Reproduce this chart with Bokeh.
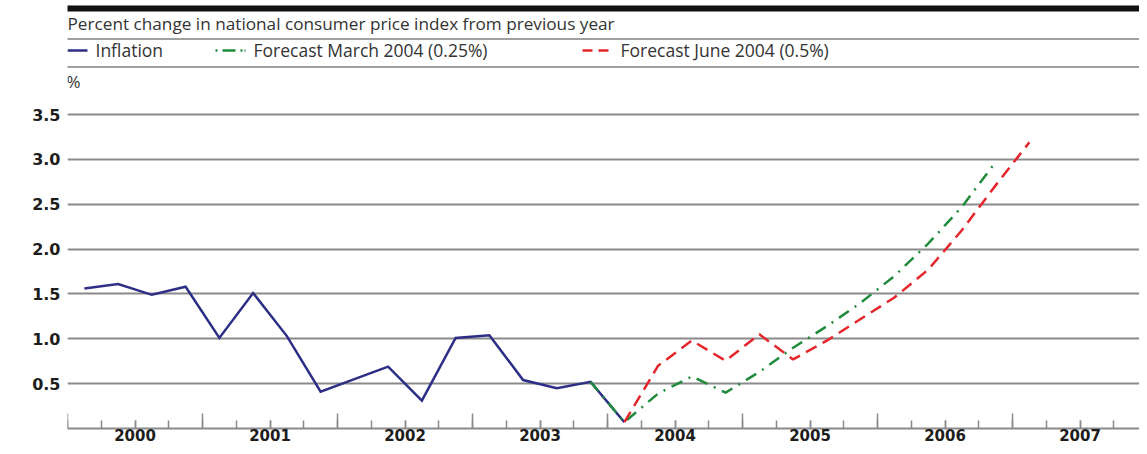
from bokeh.plotting import figure
from bokeh.models import (ColumnDataSource, FixedTicker, LinearAxis, Grid, BoxAnnotation,
                          CustomJSTickFormatter, PrintfTickFormatter, Range1d)
from bokeh.core.properties import value
from bokeh.embed import file_html
from bokeh.resources import INLINE

# ---------------- data ----------------
TITLE = "Percent change in national consumer price index from previous year"
UNIT = "%"
SERIES_NAMES = ["Inflation", "Forecast March 2004 (0.25%)", "Forecast June 2004 (0.5%)"]

inflation_quarters = ["2000Q1", "2000Q2", "2000Q3", "2000Q4",
                      "2001Q1", "2001Q2", "2001Q3", "2001Q4",
                      "2002Q1", "2002Q2", "2002Q3", "2002Q4",
                      "2003Q1", "2003Q2", "2003Q3", "2003Q4",
                      "2004Q1"]
inflation_values = [1.56, 1.61, 1.49, 1.58,
                    1.01, 1.51, 1.03, 0.41,
                    0.55, 0.69, 0.31, 1.01,
                    1.04, 0.54, 0.45, 0.52,
                    0.07]

march_quarters = ["2003Q4", "2004Q1", "2004Q2", "2004Q3", "2004Q4",
                  "2005Q1", "2005Q2", "2005Q3", "2005Q4",
                  "2006Q1", "2006Q2", "2006Q3", "2006Q4"]
march_values = [0.52, 0.07, 0.39, 0.58, 0.40,
                0.63, 0.90, 1.14, 1.40,
                1.70, 2.06, 2.47, 2.97]

june_quarters = ["2004Q1", "2004Q2", "2004Q3", "2004Q4",
                 "2005Q1", "2005Q2", "2005Q3", "2005Q4",
                 "2006Q1", "2006Q2", "2006Q3", "2006Q4",
                 "2007Q1"]
june_values = [0.07, 0.70, 0.98, 0.755,
               1.05, 0.77, 0.98, 1.22,
               1.46, 1.77, 2.21, 2.71,
               3.19]

years = [2000, 2001, 2002, 2003, 2004, 2005, 2006, 2007]
y_ticks = [0.5, 1.0, 1.5, 2.0, 2.5, 3.0, 3.5]

# ---------------- helpers ----------------
def quarter_x(label):
    yr, q = label.split("Q")
    return int(yr) + (int(q) - 0.5) / 4.0

year_bounds = years + [years[-1] + 1]
quarter_bounds = [y + k / 4.0 for y in years for k in range(4)] + [year_bounds[-1]]
mid_years = [y + 0.5 for y in years]

# ---------------- layout constants ----------------
W, H = 1139, 446
LEFT = 67            # frame left edge (px)
AXIS_Y = 428         # px of the zero line
TOP_TICK_Y = 114     # px of the 3.5 gridline
PX_PER_UNIT = (AXIS_Y - TOP_TICK_Y) / y_ticks[-1]
PX_PER_YEAR = 135.0
MAJOR_TICK_PX = 15

def xd(px):  # canvas px (from left) -> data x
    return year_bounds[0] + (px - LEFT) / PX_PER_YEAR

def yd(px):  # canvas px (from top) -> data y
    return (AXIS_Y - px) / PX_PER_UNIT

BLUE = "#2d2f86"
GREEN = "#1f8b3b"
RED = "#e3262b"
GRID = "#8a8a8a"
TXT = "#333333"
FONT = "Open Sans"
TICK_FONT = "DejaVu Sans"
HDR_SIZE = "17.5px"

p = figure(width=W, height=H, output_backend="svg", toolbar_location=None,
           x_axis_type=None, y_axis_type=None,
           x_range=Range1d(xd(LEFT), xd(W)),
           y_range=Range1d(yd(H), yd(0)),
           min_border_left=LEFT, min_border_right=0, min_border_top=0,
           min_border_bottom=0, outline_line_color=None)

# y axis + grid
yticker = FixedTicker(ticks=y_ticks, minor_ticks=[])
yaxis = LinearAxis(ticker=yticker, formatter=PrintfTickFormatter(format="%.1f"),
                   axis_line_color=None, major_tick_line_color=None, minor_tick_line_color=None,
                   major_label_text_font=TICK_FONT, major_label_text_font_style="bold",
                   major_label_text_font_size="16px", major_label_text_color="#1d1d1b",
                   major_label_standoff=1)
p.add_layout(yaxis, "left")
p.add_layout(Grid(dimension=1, ticker=yticker, grid_line_color=GRID, grid_line_width=2))

# x axis fixed at zero: labels at mid-year, short ticks at quarters
xaxis = LinearAxis(ticker=FixedTicker(ticks=mid_years, minor_ticks=quarter_bounds),
                   formatter=CustomJSTickFormatter(code="return String(Math.floor(tick));"),
                   fixed_location=0,
                   axis_line_color=GRID, axis_line_width=2,
                   major_tick_in=8, major_tick_out=0, major_tick_line_color=GRID,
                   major_tick_line_width=1.5,
                   minor_tick_in=8, minor_tick_out=0, minor_tick_line_color=GRID,
                   minor_tick_line_width=1.5,
                   major_label_text_font=TICK_FONT, major_label_text_font_style="bold",
                   major_label_text_font_size="15px", major_label_text_color="#1d1d1b",
                   major_label_standoff=0)
p.add_layout(xaxis, "below")
# longer ticks at the year boundaries
p.segment(x0=year_bounds, y0=[0] * len(year_bounds), x1=year_bounds,
          y1=[MAJOR_TICK_PX / PX_PER_UNIT] * len(year_bounds),
          line_color=GRID, line_width=1.5)

# series
src_inf = ColumnDataSource(dict(x=[quarter_x(q) for q in inflation_quarters], y=inflation_values))
src_mar = ColumnDataSource(dict(x=[quarter_x(q) for q in march_quarters], y=march_values))
src_jun = ColumnDataSource(dict(x=[quarter_x(q) for q in june_quarters], y=june_values))

p.line("x", "y", source=src_inf, line_color=BLUE, line_width=2.5, line_join="miter")
p.line("x", "y", source=src_mar, line_color=GREEN, line_width=2.5, line_dash="12 7 2 7")
p.line("x", "y", source=src_jun, line_color=RED, line_width=2.5, line_dash="12 7")

# header rules (canvas units)
def rule(left, top, bottom, color):
    p.add_layout(BoxAnnotation(left=left, right=W, top=top, bottom=bottom,
                               left_units="canvas", right_units="canvas",
                               top_units="canvas", bottom_units="canvas",
                               fill_color=color, fill_alpha=1, line_color=None))

rule(5, 5, 11, "#111111")
rule(10, 37.5, 39.5, "#a0a0a0")
rule(10, 65.5, 67.5, "#a0a0a0")

# title and unit
p.text(x=[xd(67)], y=[yd(23)], text=[TITLE], text_font=value(FONT), text_font_size="17.2px",
       text_color=TXT, text_baseline="middle", text_align="left")
p.text(x=[xd(66)], y=[yd(81)], text=[UNIT], text_font=value(FONT), text_font_size="17px",
       text_color=TXT, text_baseline="middle", text_align="left")

# legend (manual, positioned like the original)
LEG_Y = yd(50)
leg_glyphs = [(67, 87, BLUE, "solid"), (215, 245, GREEN, "2 5 13 5 2"), (582, 608, RED, "10 6")]
leg_label_x = [95, 253, 620]
for (x0, x1, c, dash), lx, name in zip(leg_glyphs, leg_label_x, SERIES_NAMES):
    p.line([xd(x0), xd(x1)], [LEG_Y, LEG_Y], line_color=c, line_width=2.5, line_dash=dash)
    p.text(x=[xd(lx)], y=[LEG_Y + 1 / PX_PER_UNIT], text=[name], text_font=value(FONT),
           text_font_size=HDR_SIZE, text_color=TXT, text_baseline="middle", text_align="left")

open("out.html", "w").write(file_html(p, INLINE))
